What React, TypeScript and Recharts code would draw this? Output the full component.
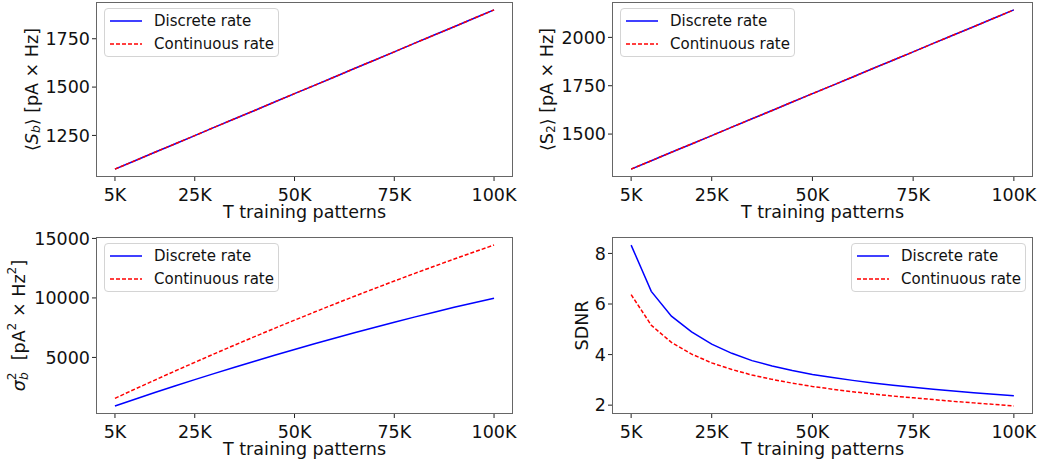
import React from 'react';
import { LineChart, Line, XAxis, YAxis, Legend, Label } from 'recharts';

// T training patterns (x values, every 5K)
const T_PATTERNS = [
  5000, 10000, 15000, 20000, 25000, 30000, 35000, 40000, 45000, 50000,
  55000, 60000, 65000, 70000, 75000, 80000, 85000, 90000, 95000, 100000,
];

const X_TICKS = [5000, 25000, 50000, 75000, 100000];
const X_TICK_LABELS = ['5K', '25K', '50K', '75K', '100K'];

const SERIES_NAMES = ['Discrete rate', 'Continuous rate'];

// <S_b>
const SB_DISCRETE = [1076, 1119, 1163, 1206, 1249, 1293, 1336, 1379, 1423, 1466, 1509, 1552, 1596, 1639, 1682, 1726, 1769, 1812, 1856, 1899];
const SB_CONTINUOUS = [1076, 1119, 1163, 1206, 1249, 1293, 1336, 1379, 1423, 1466, 1509, 1552, 1596, 1639, 1682, 1726, 1769, 1812, 1856, 1899];

// <S_2>
const S2_DISCRETE = [1319, 1362, 1406, 1449, 1492, 1536, 1579, 1622, 1666, 1709, 1752, 1795, 1839, 1882, 1925, 1969, 2012, 2055, 2099, 2142];
const S2_CONTINUOUS = [1319, 1362, 1406, 1449, 1492, 1536, 1579, 1622, 1666, 1709, 1752, 1795, 1839, 1882, 1925, 1969, 2012, 2055, 2099, 2142];

// sigma_b^2
const VAR_DISCRETE = [922, 1489, 2047, 2594, 3132, 3659, 4177, 4685, 5182, 5670, 6148, 6616, 7074, 7522, 7959, 8387, 8805, 9210, 9595, 9970];
const VAR_CONTINUOUS = [1564, 2336, 3097, 3848, 4588, 5318, 6038, 6747, 7446, 8134, 8812, 9479, 10136, 10783, 11419, 12045, 12660, 13265, 13860, 14444];

// SDNR
const SDNR_DISCRETE = [8.33, 6.5, 5.52, 4.9, 4.41, 4.05, 3.76, 3.55, 3.37, 3.21, 3.09, 2.98, 2.88, 2.79, 2.71, 2.63, 2.56, 2.49, 2.43, 2.37];
const SDNR_CONTINUOUS = [6.37, 5.16, 4.48, 4.02, 3.67, 3.41, 3.19, 3.02, 2.87, 2.74, 2.63, 2.53, 2.44, 2.36, 2.29, 2.22, 2.15, 2.09, 2.03, 1.97];

const FONT = '"DejaVu Sans", Verdana, sans-serif';
const FS = 17.5;
const SUB = 12.3;
const X_DOMAIN: [number, number] = [250, 104750];
const FRAME = '#666';
const BLUE = '#0000ff';
const RED = '#ff0000';

interface Row {
  t: number;
  discrete: number;
  continuous: number;
}

const buildRows = (discrete: number[], continuous: number[]): Row[] =>
  T_PATTERNS.map((t, i) => ({ t, discrete: discrete[i], continuous: continuous[i] }));

const formatK = (v: number) => {
  const idx = X_TICKS.indexOf(v);
  return idx >= 0 ? X_TICK_LABELS[idx] : '';
};

const renderLegend = () => (
  <div
    style={{
      width: 175,
      height: 49,
      boxSizing: 'border-box',
      border: '1px solid #d4d4d4',
      borderRadius: 4,
      background: 'rgba(255,255,255,0.8)',
      position: 'relative',
      fontFamily: FONT,
      fontSize: 15,
      color: '#111',
    }}
  >
    {SERIES_NAMES.map((name, i) => (
      <div
        key={name}
        style={{ position: 'absolute', left: 5, top: 1 + i * 22.7, height: 22, display: 'flex', alignItems: 'center', whiteSpace: 'nowrap' }}
      >
        <svg width={32} height={4} style={{ display: 'block' }}>
          <line
            x1={0}
            y1={2}
            x2={32}
            y2={2}
            stroke={i === 0 ? BLUE : RED}
            strokeWidth={1.5}
            strokeDasharray={i === 0 ? undefined : '4 2'}
          />
        </svg>
        <span style={{ marginLeft: 12, lineHeight: '22px' }}>{name}</span>
      </div>
    ))}
  </div>
);

interface PanelProps {
  left: number;
  top: number;
  width: number;
  height: number;
  plot: { x0: number; y0: number; x1: number; y1: number };
  data: Row[];
  yDomain: [number, number];
  yTicks: number[];
  yLabel: React.ReactNode;
  yLabelX: number;
  legendPos: { left: number; top: number };
}

function Panel({ left, top, width, height, plot, data, yDomain, yTicks, yLabel, yLabelX, legendPos }: PanelProps) {
  const cy = (plot.y0 + plot.y1) / 2;
  const cx = (plot.x0 + plot.x1) / 2;
  return (
    <div style={{ position: 'absolute', left, top, width, height }}>
      <LineChart
        width={width}
        height={height}
        data={data}
        margin={{ top: plot.y0, right: width - plot.x1, left: 0, bottom: 0 }}
      >
        <XAxis
          type="number"
          dataKey="t"
          domain={X_DOMAIN}
          ticks={X_TICKS}
          tickFormatter={formatK}
          allowDataOverflow
          interval={0}
          height={height - plot.y1}
          axisLine={false}
          tickLine={{ stroke: '#222' }}
          tickSize={4}
          tickMargin={8}
          tick={{ fontSize: FS, fill: '#111', fontFamily: FONT }}
        >
          <Label
            content={() => (
              <text x={cx} y={plot.y1 + 41} textAnchor="middle" fontSize={FS} fontFamily={FONT} fill="#111">
                T training patterns
              </text>
            )}
          />
        </XAxis>
        <YAxis
          type="number"
          domain={yDomain}
          ticks={yTicks}
          allowDataOverflow
          interval={0}
          width={plot.x0}
          axisLine={false}
          tickLine={{ stroke: '#222' }}
          tickSize={4}
          tickMargin={2}
          tick={{ fontSize: FS, fill: '#111', fontFamily: FONT }}
        >
          <Label
            content={() => (
              <text
                x={yLabelX}
                y={cy}
                transform={`rotate(-90 ${yLabelX} ${cy})`}
                textAnchor="middle"
                dominantBaseline="central"
                fontSize={FS}
                fontFamily={FONT}
                fill="#111"
              >
                {yLabel}
              </text>
            )}
          />
        </YAxis>
        <Legend
          layout="horizontal"
          verticalAlign="middle"
          align="center"
          content={renderLegend}
          wrapperStyle={{ left: legendPos.left, top: legendPos.top, width: 175, height: 49 }}
        />
        <Line type="linear" dataKey="discrete" name={SERIES_NAMES[0]} stroke={BLUE} strokeWidth={1.5} dot={false} isAnimationActive={false} />
        <Line
          type="linear"
          dataKey="continuous"
          name={SERIES_NAMES[1]}
          stroke={RED}
          strokeWidth={1.5}
          strokeDasharray="4 2"
          dot={false}
          isAnimationActive={false}
        />
      </LineChart>
      <div
        style={{
          position: 'absolute',
          left: plot.x0,
          top: plot.y0,
          width: plot.x1 - plot.x0,
          height: plot.y1 - plot.y0,
          border: `1px solid ${FRAME}`,
          boxSizing: 'border-box',
          pointerEvents: 'none',
        }}
      />
    </div>
  );
}

const sbLabel = (
  <>
    <tspan>⟨</tspan>
    <tspan fontStyle="italic">S</tspan>
    <tspan fontStyle="italic" fontSize={SUB} dy={4}>b</tspan>
    <tspan dy={-4}>⟩ [pA × Hz]</tspan>
  </>
);

const s2Label = (
  <>
    <tspan>⟨S</tspan>
    <tspan fontSize={SUB} dy={4}>2</tspan>
    <tspan dy={-4}>⟩ [pA × Hz]</tspan>
  </>
);

const varLabel = (
  <>
    <tspan fontStyle="italic">σ</tspan>
    <tspan fontSize={SUB} dy={-7}>2</tspan>
    <tspan fontStyle="italic" fontSize={SUB} dx={-7.8} dy={12}>b</tspan>
    <tspan dx={12} dy={-5}>[pA</tspan>
    <tspan fontSize={SUB} dy={-7}>2</tspan>
    <tspan dy={7}> × Hz</tspan>
    <tspan fontSize={SUB} dy={-7}>2</tspan>
    <tspan dy={7}>]</tspan>
  </>
);

export default function App() {
  return (
    <div style={{ position: 'absolute', left: 0, top: 0, width: 1045, height: 461, background: '#fff' }}>
      <Panel
        left={0}
        top={0}
        width={520}
        height={230}
        plot={{ x0: 96, y0: 2, x1: 513, y1: 177 }}
        data={buildRows(SB_DISCRETE, SB_CONTINUOUS)}
        yDomain={[1035, 1940]}
        yTicks={[1250, 1500, 1750]}
        yLabel={sbLabel}
        yLabelX={32}
        legendPos={{ left: 104, top: 8 }}
      />
      <Panel
        left={520}
        top={0}
        width={525}
        height={230}
        plot={{ x0: 92, y0: 2, x1: 513, y1: 177 }}
        data={buildRows(S2_DISCRETE, S2_CONTINUOUS)}
        yDomain={[1278, 2183]}
        yTicks={[1500, 1750, 2000]}
        yLabel={s2Label}
        yLabelX={27}
        legendPos={{ left: 100, top: 8 }}
      />
      <Panel
        left={0}
        top={230}
        width={520}
        height={231}
        plot={{ x0: 96, y0: 7, x1: 513, y1: 184 }}
        data={buildRows(VAR_DISCRETE, VAR_CONTINUOUS)}
        yDomain={[246, 15120]}
        yTicks={[5000, 10000, 15000]}
        yLabel={varLabel}
        yLabelX={19}
        legendPos={{ left: 104, top: 13 }}
      />
      <Panel
        left={520}
        top={230}
        width={525}
        height={231}
        plot={{ x0: 92, y0: 7, x1: 513, y1: 184 }}
        data={buildRows(SDNR_DISCRETE, SDNR_CONTINUOUS)}
        yDomain={[1.65, 8.65]}
        yTicks={[2, 4, 6, 8]}
        yLabel={<tspan>SDNR</tspan>}
        yLabelX={62}
        legendPos={{ left: 331, top: 13 }}
      />
    </div>
  );
}
